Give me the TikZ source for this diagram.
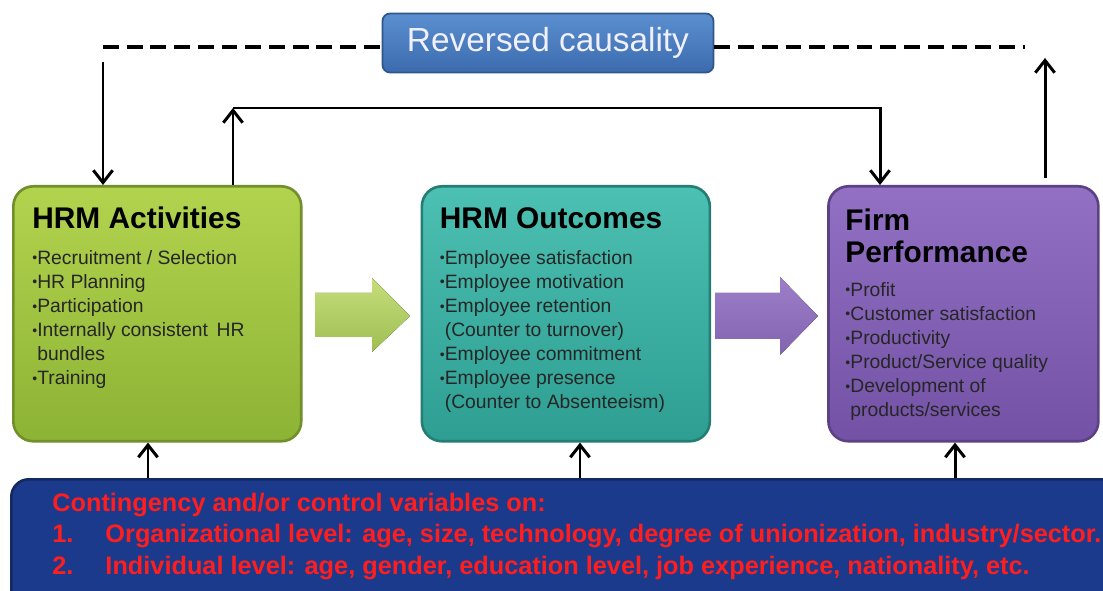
\documentclass[tikz,border=0pt]{standalone}
\usepackage{fontspec}
\setmainfont{Liberation Sans}
\usetikzlibrary{positioning,arrows.meta}

\definecolor{actlight}{HTML}{B2D34E}
\definecolor{actdark}{HTML}{8DB335}
\definecolor{outlight}{HTML}{4CC0B2}
\definecolor{outdark}{HTML}{2E9E92}
\definecolor{perflight}{HTML}{9270C4}
\definecolor{perfdark}{HTML}{7352A6}
\definecolor{revlight}{HTML}{5B8FD0}
\definecolor{revdark}{HTML}{3B6BAE}
\definecolor{ctrlblue}{HTML}{1B3A8C}
\definecolor{ctrlred}{HTML}{FF1E1E}

% bullet and hanging indent for the lists
\newcommand\itm{{\footnotesize\raisebox{0.2ex}{•}}}
\newcommand\hang{\hphantom{\itm}}

\tikzset{
  hrmbox/.style={anchor=north west, rounded corners=0.4cm, line width=1.5pt,
    minimum height=5.1cm},
  title/.style={anchor=north west, inner sep=0pt, align=left,
    font=\fontsize{17}{18}\selectfont\bfseries},
  items/.style={anchor=north west, inner sep=0pt, align=left,
    font=\fontsize{11}{13.7}\selectfont, text=black!85},
  arr/.style={line width=1.7pt, -{Straight Barb[length=7pt,width=11pt]}},
  dashline/.style={line width=2.6pt, dash pattern=on 9pt off 4.5pt},
}

\begin{document}
\begin{tikzpicture}[x=0.02cm, y=-0.02cm]
	\clip (0,0) rectangle (1103,591);

	% the three stages
	\node(act)[hrmbox, draw=actdark!80!black, top color=actlight, bottom color=actdark, minimum width=5.76cm] at (12,185) {};
	\node(out)[hrmbox, draw=outdark!80!black, top color=outlight, bottom color=outdark, minimum width=5.76cm, right=2.36cm of act] {};
	\node(perf)[hrmbox, draw=perfdark!80!black, top color=perflight, bottom color=perfdark, minimum width=5.4cm, right=2.32cm of out] {};

	\node(acttitle)[title] at ([shift={(20,22)}]act.north west) {HRM Activities};
	\node(actlist)[items] at ([shift={(20,65)}]act.north west) {\itm Recruitment / Selection\\ \itm HR Planning\\ \itm Participation\\ \itm Internally consistent\, HR\\ \hang bundles\\ \itm Training};

	\node(outtitle)[title] at ([shift={(19,22)}]out.north west) {HRM Outcomes};
	\node(outlist)[items] at ([shift={(19,65)}]out.north west) {\itm Employee satisfaction\\ \itm Employee motivation\\ \itm Employee retention\\ \hang (Counter to turnover)\\ \itm Employee commitment\\ \itm Employee presence\\ \hang (Counter to Absenteeism)};

	\node(perftitle)[title] at ([shift={(18,24)}]perf.north west) {Firm\\Performance};
	\node(perflist)[items] at ([shift={(18,97)}]perf.north west) {\itm Profit\\ \itm Customer satisfaction\\ \itm Productivity\\ \itm Product/Service quality\\ \itm Development of\\ \hang products/services};

	% block arrows between the stages
	\fill[top color=actlight!75!white, bottom color=actdark!85!white] (315,293) -- (372,293) -- (372,278) -- (410,316) -- (372,352) -- (372,337) -- (315,337) -- cycle;
	\fill[top color=perflight!90!white, bottom color=perfdark!90!white] (715,293) -- (780,293) -- (780,277) -- (818,316) -- (780,355) -- (780,339) -- (715,339) -- cycle;

	% reversed causality
	\node(rev)[draw=revdark!80!black, line width=1pt, top color=revlight, bottom color=revdark, rounded corners=0.15cm, minimum width=6.62cm, minimum height=1.18cm, text=blue!6!white, font=\fontsize{19}{20}\selectfont] at (548,43) {Reversed causality};

	\coordinate(dsl) at (103,47);
	\coordinate(dsr) at (1025,47);
	\draw[dashline] (dsl) -- (dsl -| rev.west);
	\draw[dashline] (dsr -| rev.east) -- (dsr);

	\coordinate(dl) at (103,62);
	\coordinate(dr) at (1045,58);
	\draw[arr] (dl) -- (dl |- act.north);
	\draw[arr] ([yshift=0.14cm]dr |- perf.north) -- (dr);

	% direct feedback from firm performance
	\coordinate(fbl) at (233,108);
	\coordinate(fbr) at (880,108);
	\draw[arr] (fbl |- act.north) -- (fbl);
	\draw[arr] (fbl) -- (fbr) -- (fbr |- perf.north);

	% contingency and control variables
	\node(ctrl)[anchor=north west, draw=ctrlblue!70!black, line width=1.5pt, fill=ctrlblue, rounded corners=0.35cm, minimum width=22.6cm, minimum height=3.0cm] at (10,478) {};
	\node(ctrltext)[anchor=north west, inner sep=0pt, align=left, text=ctrlred, font=\fontsize{14.4}{17.8}\selectfont\bfseries] at ([shift={(42,15)}]ctrl.north west) {Contingency and/or control variables on:\\ \makebox[2.1em][l]{1.}Organizational level: age, size, technology, degree of unionization, industry/sector.\\ \makebox[2.1em][l]{2.}Individual level: age, gender, education level, job experience, nationality, etc.};

	\coordinate(c1) at (148,478);
	\coordinate(c2) at (580,478);
	\coordinate(c3) at (955,478);
	\draw[arr] (c1) -- (c1 |- act.south);
	\draw[arr] (c2) -- (c2 |- out.south);
	\draw[arr] (c3) -- (c3 |- perf.south);
\end{tikzpicture}
\end{document}
